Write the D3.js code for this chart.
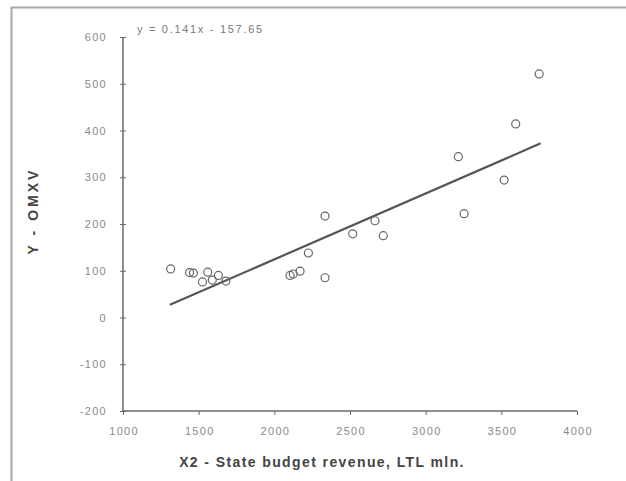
<!DOCTYPE html>
<html>
<head>
<meta charset="utf-8">
<script src="https://cdn.jsdelivr.net/npm/d3@7"></script>
<style>
  body { margin: 0; background: #fff; }
  svg { display: block; font-family: "Liberation Sans", Arial, sans-serif; }
</style>
</head>
<body>
<div id="chart"></div>
<script>
// revenue (x) vs OMXV index (y)
const revenue = [1315, 1440, 1465, 1525, 1560, 1590, 1630, 1680,
                 2104, 2125, 2170, 2225, 2335, 2335, 2518, 2665, 2720,
                 3216, 3254, 3518, 3595, 3750];
const omxv    = [104, 96, 95, 76, 97, 80, 90, 78,
                 90, 93, 99, 138, 217, 85, 179, 207, 175,
                 344, 222, 294, 414, 521];
const xTicks = [1000, 1500, 2000, 2500, 3000, 3500, 4000];
const yTicks = [-200, -100, 0, 100, 200, 300, 400, 500, 600];
const slope = 0.141, intercept = -157.65;
const trendRange = [1310, 3760];

const W = 626, H = 481;
const margin = {top: 37, right: 49, bottom: 70, left: 123};
const width = W - margin.left - margin.right;   // 454
const height = H - margin.top - margin.bottom;  // 374

const svg = d3.select("#chart").append("svg")
              .attr("width", W)
              .attr("height", H);

// frame (left + top edges of the original chart box)
svg.append("path")
   .attr("d", `M11.5,${H} L11.5,7.5 L${W},7.5`)
   .attr("fill", "none")
   .attr("stroke", "#a8a8a8")
   .attr("stroke-width", 2);

const g = svg.append("g")
             .attr("transform", "translate(" + margin.left + "," + margin.top + ")");

const xScale = d3.scaleLinear().domain([1000, 4000]).range([0, width]);
const yScale = d3.scaleLinear().domain([-200, 600]).range([height, 0]);

const xAxis = d3.axisBottom(xScale).tickValues(xTicks).tickFormat(d => String(d))
                .tickSize(4).tickPadding(12);
const yAxis = d3.axisLeft(yScale).tickValues(yTicks).tickFormat(d => String(d))
                .tickSize(3).tickPadding(13);

g.append("g")
 .attr("transform", "translate(0," + height + ")")
 .call(xAxis)
 .call(a => a.select(".domain").attr("d", `M0,0H${width}`).attr("stroke", "#6a6a6a").attr("stroke-width", 1.5))
 .call(a => a.selectAll(".tick line").attr("stroke", "#6a6a6a"))
 .call(a => a.selectAll("text").attr("fill", "#8a8a8a").attr("dx", "0.6px")
             .style("font-size", "11px").style("letter-spacing", "1.3px"));

g.append("g")
 .call(yAxis)
 .call(a => a.select(".domain").attr("d", `M0,${height}V0`).attr("stroke", "#6a6a6a").attr("stroke-width", 1.5))
 .call(a => a.selectAll(".tick line").attr("x1", 3).attr("stroke", "#6a6a6a"))
 .call(a => a.selectAll("text").attr("fill", "#8a8a8a")
             .style("font-size", "11px").style("letter-spacing", "1.3px"));

// trend line
const line = d3.line()
               .x(d => xScale(d))
               .y(d => yScale(slope * d + intercept));

g.append("path")
 .attr("d", line(trendRange))
 .attr("fill", "none")
 .attr("stroke", "#555")
 .attr("stroke-width", 2.2);

// points
g.selectAll("circle.pt")
 .data(revenue)
 .enter()
 .append("circle")
 .attr("class", "pt")
 .attr("cx", d => xScale(d))
 .attr("cy", (d, i) => yScale(omxv[i]))
 .attr("r", 4)
 .attr("fill", "none")
 .attr("stroke", "#666")
 .attr("stroke-width", 1.2);

// equation
g.append("text")
 .attr("x", 14)
 .attr("y", -4)
 .attr("fill", "#7a7a7a")
 .style("font-size", "11px")
 .style("letter-spacing", "1.7px")
 .text("y = 0.141x - 157.65");

// axis titles
svg.append("text")
   .attr("x", 322)
   .attr("y", 467)
   .attr("text-anchor", "middle")
   .attr("fill", "#444")
   .style("font-size", "14px")
   .style("font-weight", "bold")
   .style("letter-spacing", "1.4px")
   .text("X2 - State budget revenue, LTL mln.");

svg.append("text")
   .attr("transform", "translate(38,211) rotate(-90)")
   .attr("text-anchor", "middle")
   .attr("fill", "#444")
   .style("font-size", "14px")
   .style("font-weight", "bold")
   .style("letter-spacing", "3px")
   .text("Y - OMXV");
</script>
</body>
</html>
